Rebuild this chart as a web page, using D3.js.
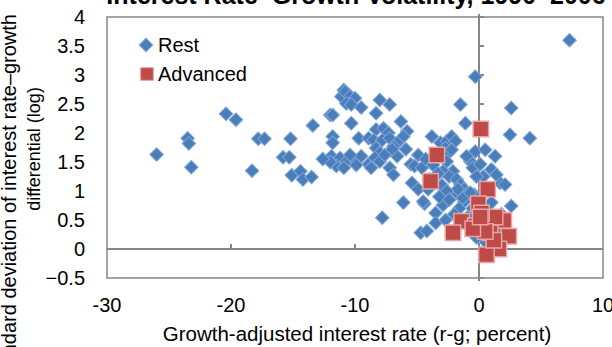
<!DOCTYPE html>
<html><head><meta charset="utf-8">
<script src="https://cdn.jsdelivr.net/npm/d3@7/dist/d3.min.js"></script>
<style>
html,body{margin:0;padding:0;background:#fff;}
svg{display:block;font-family:"Liberation Sans",Arial,sans-serif;}
</style></head>
<body>
<svg id="c" width="612" height="347"></svg>
<script>
const title = "Interest Rate\u2013Growth Volatility, 1990\u20132006";
const xTitle = "Growth-adjusted interest rate (r-g; percent)";
const yTitle1 = "Standard deviation of interest rate\u2013growth";
const yTitle2 = "differential (log)";
const seriesNames = ["Rest", "Advanced"];
const xTicks = [-30, -20, -10, 0, 10];
const yTicks = [-0.5, 0, 0.5, 1, 1.5, 2, 2.5, 3, 3.5, 4];

const restX = [-26.0,-23.5,-23.4,-23.2,-20.4,-19.6,-17.8,-17.3,-18.3,-15.8,-15.3,-15.2,-15.1,-14.4,-14.2,-13.5,-13.4,
  -12.0,-11.8,-10.9,-11.1,-10.5,-10.8,-10.4,-10.0,-10.7,-10.3,-9.5,-10.3,-11.8,-11.8,-9.7,-8.9,-11.9,-11.2,-10.7,-10.0,
  -9.5,-8.9,-11.5,-10.9,-12.0,-10.4,-8.0,-7.2,-8.3,-6.3,-8.3,-7.7,-7.3,-5.8,-6.1,-8.5,-7.8,-7.2,-6.6,-6.9,-8.3,-8.0,
  -8.4,-8.0,-8.7,-7.2,-6.9,-5.5,-5.2,-4.6,-5.4,-4.9,-4.1,-6.1,-4.4,-3.5,-3.5,-7.8,-4.7,-7.6,-6.6,-7.0,-3.8,-3.1,-2.6,
  -2.2,-1.9,-2.7,-2.5,-2.2,-1.5,-1.1,-0.3,-0.3,0.5,1.3,-0.7,-0.5,0.1,1.0,1.7,-2.6,-2.1,-2.9,-2.4,-1.8,-1.5,-1.2,-0.9,
  -0.4,-1.8,-1.2,-4.5,-2.9,-4.2,-1.7,-1.3,-0.7,0.35,1.4,2.1,1.0,2.6,2.6,2.5,4.1,7.3,0.3,-0.9,-0.5,1.8,0.8,0.4,1.5,-0.2,
  -5.9,-4.9,-4.3,-3.7,-3.3,-4.0,-3.0,-2.6,-3.2,-2.4,-1.6,-2.0,-2.7,-12.6,-9.9,-0.2,0.6,-1.0];
const restY = [1.63,1.91,1.82,1.41,2.33,2.23,1.90,1.90,1.35,1.58,1.58,1.90,1.27,1.34,1.20,1.24,2.13,
  2.31,2.31,2.74,2.63,2.66,2.71,2.63,2.60,2.51,2.49,2.44,2.17,1.94,1.83,1.91,1.91,1.60,1.57,1.51,1.54,
  1.60,1.46,1.43,1.40,1.50,1.62,2.57,2.49,2.34,2.20,2.06,2.08,2.00,2.03,1.94,1.88,1.88,1.91,1.83,1.77,1.74,1.65,
  1.57,1.51,1.40,1.40,1.28,1.46,1.43,1.40,1.14,1.03,1.03,0.80,0.78,0.62,0.45,0.54,0.28,1.62,1.60,1.72,1.94,1.83,1.86,
  1.94,1.86,1.74,1.65,1.71,2.49,2.17,2.97,1.68,1.71,1.60,1.51,1.40,1.46,1.37,1.14,1.51,1.34,1.34,1.25,1.20,1.11,1.03,0.97,
  0.94,0.97,0.82,0.82,0.76,0.31,1.03,0.88,0.97,1.25,1.28,1.11,0.80,0.74,2.43,1.97,1.91,3.60,0.60,0.55,0.70,0.60,0.10,0.15,0.35,0.20,
  1.72,1.62,1.55,1.45,1.30,1.20,1.10,1.00,0.90,0.85,0.70,0.60,0.50,1.55,1.45,1.25,1.05,1.60];

const advX = [-3.4,-3.9,0.15,0.7,-0.05,-1.4,-2.1,0.4,2.0,2.4,1.6,0.6,-0.3,0.9,1.3,0.2,1.2,0.5,-0.5,0.1];
const advY = [1.62,1.17,2.07,1.03,0.78,0.48,0.28,0.43,0.49,0.22,0.0,-0.1,0.40,0.28,0.55,0.62,0.15,0.30,0.35,0.55];

const svg = d3.select("#c");
const L = 107, R = 603, T = 17, B = 278;
const x = d3.scaleLinear().domain([-30, 10]).range([L, R]);
const y = d3.scaleLinear().domain([-0.5, 4]).range([B, T]);
const axisCol = "#868686";

// title (clipped at top)
svg.append("text").attr("x", 356).attr("y", 4).attr("text-anchor", "middle")
  .attr("font-weight", "bold").attr("font-size", 25).attr("fill", "#000").text(title);

// plot border
svg.append("rect").attr("x", L).attr("y", T).attr("width", R - L).attr("height", B - T)
  .attr("fill", "none").attr("stroke", axisCol).attr("stroke-width", 1.5);

// horizontal axis at y=0
svg.append("line").attr("x1", L).attr("x2", R).attr("y1", y(0)).attr("y2", y(0))
  .attr("stroke", axisCol).attr("stroke-width", 2);
svg.selectAll(".xt").data(xTicks.filter(v => v !== 0 && v !== -30 && v !== 10)).enter().append("line")
  .attr("x1", d => x(d)).attr("x2", d => x(d)).attr("y1", y(0)).attr("y2", y(0) - 5)
  .attr("stroke", axisCol).attr("stroke-width", 2);

// vertical axis at x=0
svg.append("line").attr("x1", x(0)).attr("x2", x(0)).attr("y1", T - 3).attr("y2", B + 3)
  .attr("stroke", axisCol).attr("stroke-width", 2);
svg.selectAll(".yt").data(yTicks).enter().append("line")
  .attr("x1", x(0)).attr("x2", x(0) + 5).attr("y1", d => y(d)).attr("y2", d => y(d))
  .attr("stroke", axisCol).attr("stroke-width", 2);

// tick labels
svg.selectAll(".yl").data(yTicks).enter().append("text")
  .attr("x", 85).attr("y", d => y(d)).attr("dy", "0.35em").attr("text-anchor", "end")
  .attr("font-size", 20).attr("fill", "#000").text(d => d3.format("")(d));
svg.selectAll(".xl").data(xTicks).enter().append("text")
  .attr("x", d => x(d)).attr("y", 305).attr("dy", "0.35em").attr("text-anchor", "middle")
  .attr("font-size", 20).attr("fill", "#000").text(d => d);

// axis titles
svg.append("text").attr("x", 357).attr("y", 341).attr("text-anchor", "middle")
  .attr("font-size", 20.5).attr("fill", "#000").text(xTitle);
svg.append("text").attr("transform", "translate(16,14) rotate(-90)").attr("text-anchor", "end")
  .attr("font-size", 20).attr("fill", "#000").text(yTitle1);
svg.append("text").attr("transform", "translate(40,149) rotate(-90)").attr("text-anchor", "middle")
  .attr("font-size", 18).attr("fill", "#000").text(yTitle2);

// markers
const diamond = d3.symbol().type(d3.symbolSquare).size(92);
const square = d3.symbol().type(d3.symbolSquare).size(240);
const blue = "#4A7EBB", blueEdge = "#7FA5D6";
const red = "#BE4B48", redEdge = "#E6A6A4";

const g = svg.append("g");
g.selectAll(".r").data(restX.map((v, i) => [v, restY[i]])).enter().append("path")
  .attr("d", diamond).attr("transform", d => `translate(${x(d[0])},${y(d[1])}) rotate(45)`)
  .attr("fill", blue).attr("stroke", blueEdge).attr("stroke-width", 1);
g.selectAll(".a").data(advX.map((v, i) => [v, advY[i]])).enter().append("path")
  .attr("d", square).attr("transform", d => `translate(${x(d[0])},${y(d[1])})`)
  .attr("fill", red).attr("stroke", redEdge).attr("stroke-width", 1.5);

// legend
const lg = svg.append("g");
lg.append("path").attr("d", diamond).attr("transform", "translate(146,45) rotate(45)")
  .attr("fill", blue).attr("stroke", blueEdge).attr("stroke-width", 1);
lg.append("text").attr("x", 158).attr("y", 45).attr("dy", "0.35em").attr("font-size", 20)
  .attr("fill", "#000").text(seriesNames[0]);
lg.append("path").attr("d", d3.symbol().type(d3.symbolSquare).size(160)).attr("transform", "translate(147,74)")
  .attr("fill", red).attr("stroke", redEdge).attr("stroke-width", 1);
lg.append("text").attr("x", 158).attr("y", 74).attr("dy", "0.35em").attr("font-size", 20)
  .attr("fill", "#000").text(seriesNames[1]);
</script>
</body></html>
